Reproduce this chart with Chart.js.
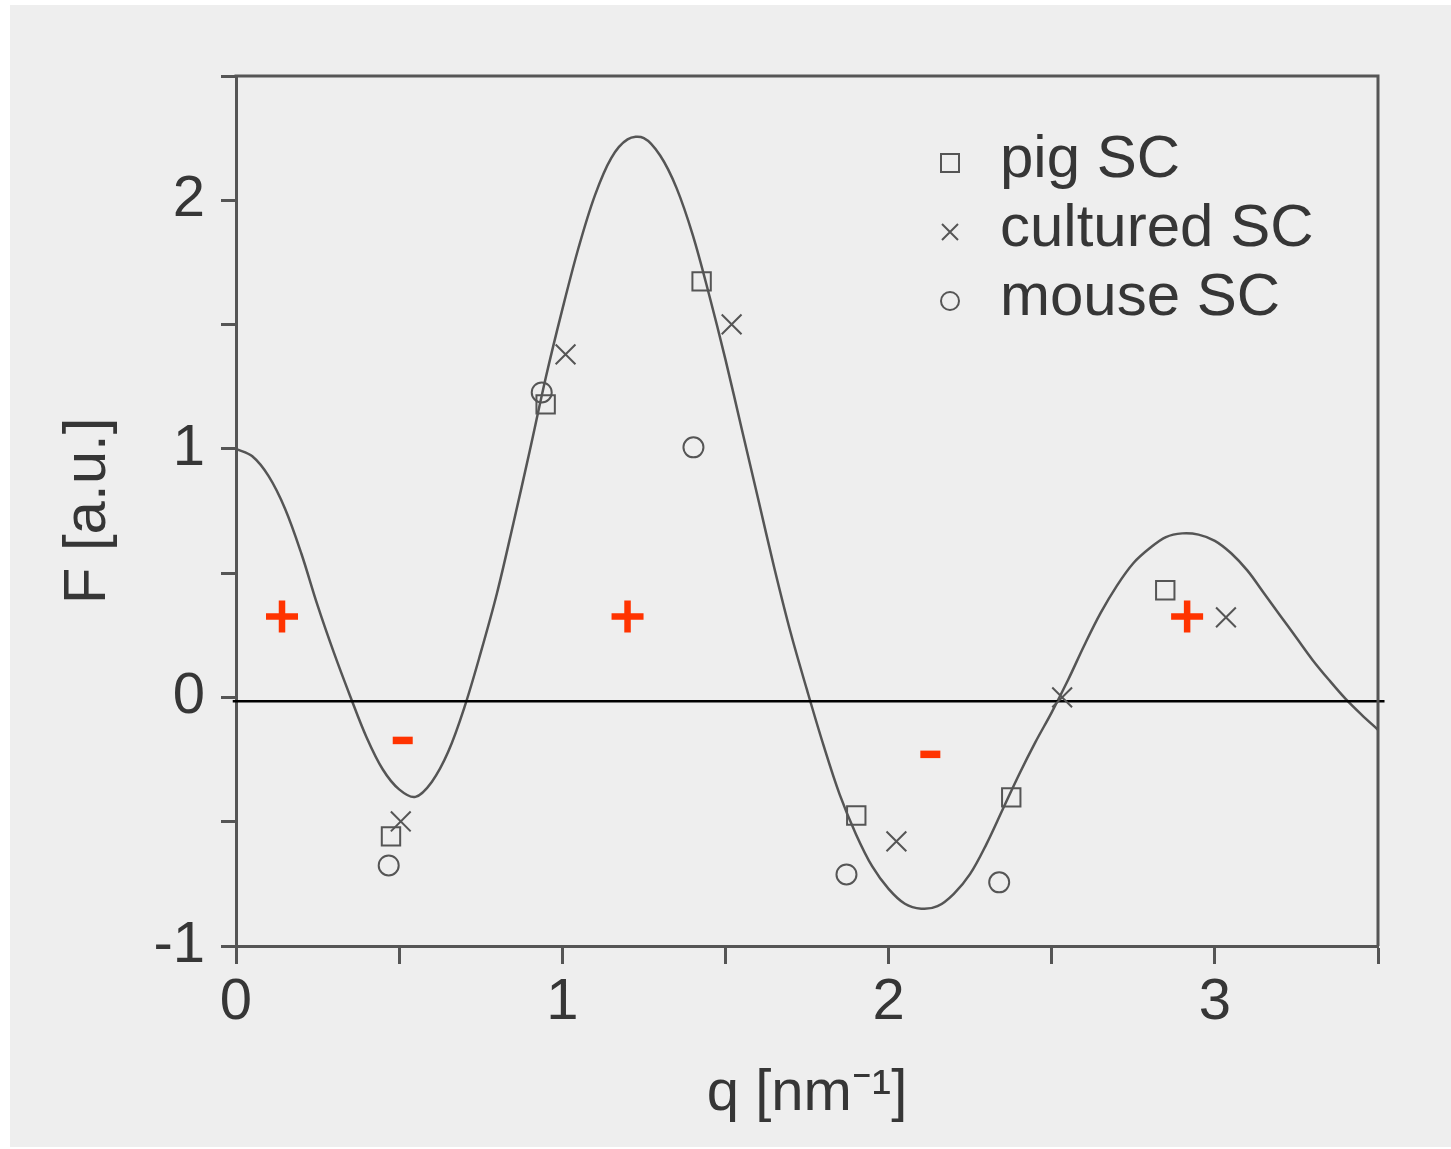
<!DOCTYPE html>
<html>
<head>
<meta charset="utf-8">
<script src="https://cdn.jsdelivr.net/npm/chart.js@4.4.1/dist/chart.umd.min.js"></script>
<style>
  html, body { margin: 0; padding: 0; background: #fff; }
  #wrap { position: relative; width: 1451px; height: 1149px; }
</style>
</head>
<body>
<div id="wrap"><canvas id="chart" width="1451" height="1149"></canvas></div>
<script>
// ---- data ----

// fitted form factor curve F(q)
const curveQ = [0, 0.05, 0.10, 0.15, 0.20, 0.25, 0.30, 0.35, 0.40, 0.45, 0.50, 0.55, 0.60, 0.65, 0.70,
  0.75, 0.80, 0.85, 0.90, 0.95, 1.00, 1.05, 1.10, 1.15, 1.20, 1.25, 1.30, 1.35, 1.40, 1.45,
  1.50, 1.55, 1.60, 1.65, 1.70, 1.75, 1.80, 1.85, 1.90, 1.95, 2.00, 2.05, 2.10, 2.15, 2.20,
  2.25, 2.30, 2.35, 2.40, 2.45, 2.50, 2.55, 2.60, 2.65, 2.70, 2.75, 2.80, 2.85, 2.90, 2.95,
  3.00, 3.05, 3.10, 3.15, 3.20, 3.25, 3.30, 3.35, 3.40, 3.45, 3.50];
const curveF = [1.00, 0.97, 0.89, 0.76, 0.58, 0.37, 0.18, 0.005, -0.16, -0.29, -0.37, -0.40, -0.34, -0.22, -0.04,
  0.18, 0.42, 0.70, 0.99, 1.29, 1.56, 1.81, 2.02, 2.17, 2.245, 2.25, 2.18, 2.05, 1.86, 1.62,
  1.36, 1.08, 0.80, 0.52, 0.26, 0.03, -0.19, -0.39, -0.55, -0.68, -0.77, -0.83, -0.85, -0.84, -0.79,
  -0.71, -0.59, -0.45, -0.31, -0.18, -0.06, 0.07, 0.21, 0.34, 0.45, 0.54, 0.60, 0.645, 0.66, 0.655,
  0.63, 0.58, 0.51, 0.42, 0.33, 0.24, 0.15, 0.07, -0.005, -0.07, -0.13];

// measured points
const pigQ = [0.475, 0.949, 1.427, 1.901, 2.376, 2.848];
const pigF = [-0.559, 1.179, 1.674, -0.475, -0.402, 0.431];
const culturedQ = [0.505, 1.010, 1.519, 2.024, 2.532, 3.034];
const culturedF = [-0.499, 1.380, 1.501, -0.579, 0.000, 0.322];
const mouseQ = [0.468, 0.937, 1.402, 1.871, 2.339];
const mouseF = [-0.676, 1.227, 1.006, -0.712, -0.744];

// sign annotations (the last one sits just past the right edge of the page)
const plusQ = [0.141, 1.200, 2.915];
const plusF = [0.326, 0.326, 0.326];
const minusQ = [0.511, 2.128];
const minusF = [-0.173, -0.229];
const edgeQ = [3.728];
const edgeF = [-0.02];

// zero reference line
const zeroQ = [-0.01, 3.52];
const zeroF = [-0.015, -0.015];

const xTicks = [0, 1, 2, 3];
const yTicks = [-1, 0, 1, 2];
const legendLabels = ['pig SC', 'cultured SC', 'mouse SC'];

// ---- styles ----
const FONT = '"Liberation Sans", Arial, Helvetica, sans-serif';
const INK = '#555';
const TEXT = '#363636';
const RED = '#ff3300';

function pts(xs, ys) {
  return xs.map((x, i) => ({ x, y: ys[i] }));
}

const bgPlugin = {
  id: 'paper',
  beforeDraw(chart) {
    const ctx = chart.ctx;
    ctx.save();
    ctx.fillStyle = '#eeeeee';
    ctx.fillRect(10, 5, chart.width - 10, chart.height - 7);
    ctx.restore();
  }
};

const framePlugin = {
  id: 'frame',
  afterDraw(chart) {
    const { ctx, chartArea: a } = chart;
    ctx.save();
    ctx.strokeStyle = INK;
    ctx.lineWidth = 3;
    ctx.beginPath();
    ctx.moveTo(a.left - 1.5, a.top);
    ctx.lineTo(a.right, a.top);
    ctx.lineTo(a.right, a.bottom);
    ctx.stroke();
    ctx.restore();
  }
};

function drawMarker(ctx, style, x, y, r) {
  ctx.beginPath();
  if (style === 'rect') {
    ctx.rect(x - r, y - r, 2 * r, 2 * r);
  } else if (style === 'crossRot') {
    ctx.moveTo(x - r, y - r); ctx.lineTo(x + r, y + r);
    ctx.moveTo(x + r, y - r); ctx.lineTo(x - r, y + r);
  } else {
    ctx.arc(x, y, r, 0, Math.PI * 2);
  }
  ctx.stroke();
}

const legendPlugin = {
  id: 'sampleLegend',
  afterDraw(chart) {
    const ctx = chart.ctx;
    const styles = ['rect', 'crossRot', 'circle'];
    const sizes = [9, 8, 9];
    const baselines = [177, 246, 315];
    ctx.save();
    ctx.font = '60px ' + FONT;
    ctx.fillStyle = TEXT;
    ctx.strokeStyle = INK;
    ctx.lineWidth = 2;
    ctx.textBaseline = 'alphabetic';
    legendLabels.forEach((label, i) => {
      ctx.fillText(label, 1000, baselines[i]);
      drawMarker(ctx, styles[i], 950, baselines[i] - 14, sizes[i]);
    });
    ctx.restore();
  }
};

const markerBase = {
  showLine: false,
  borderColor: INK,
  backgroundColor: 'rgba(0,0,0,0)',
  borderWidth: 2,
};

new Chart(document.getElementById('chart'), {
  type: 'scatter',
  data: {
    datasets: [
      { label: 'pig SC', data: pts(pigQ, pigF), pointStyle: 'rect', pointRadius: 13, ...markerBase },
      { label: 'cultured SC', data: pts(culturedQ, culturedF), pointStyle: 'crossRot', pointRadius: 14, ...markerBase },
      { label: 'mouse SC', data: pts(mouseQ, mouseF), pointStyle: 'circle', pointRadius: 10, ...markerBase },
      { label: 'plus', data: pts(plusQ, plusF), pointStyle: 'cross', pointRadius: 16, borderWidth: 6.5,
        borderColor: RED, backgroundColor: RED, showLine: false },
      { label: 'minus', data: pts(minusQ, minusF), pointStyle: 'line', pointRadius: 10, borderWidth: 7.5,
        borderColor: RED, backgroundColor: RED, showLine: false },
      { label: 'edge', data: pts(edgeQ, edgeF), pointStyle: 'rectRot', pointRadius: 6, borderWidth: 0,
        borderColor: RED, backgroundColor: RED, showLine: false, clip: false },
      { label: 'zero', data: pts(zeroQ, zeroF), showLine: true, pointRadius: 0, borderColor: '#000',
        borderWidth: 2.5, clip: false },
      { label: 'fit', data: pts(curveQ, curveF), showLine: true, pointRadius: 0, borderColor: INK,
        borderWidth: 2.5, tension: 0.35, clip: false },
    ]
  },
  options: {
    responsive: false,
    animation: false,
    events: [],
    layout: { padding: { top: 76, right: 73, left: 0, bottom: 0 } },
    plugins: { legend: { display: false }, tooltip: { enabled: false } },
    scales: {
      x: {
        type: 'linear', min: 0, max: 3.5,
        afterFit: s => { s.height = 203; },
        ticks: {
          stepSize: 0.5, autoSkip: false, maxRotation: 0, padding: 4, color: TEXT,
          font: { size: 58, family: FONT },
          callback: v => xTicks.includes(v) ? String(v) : ''
        },
        grid: { drawOnChartArea: false, tickLength: 18, tickWidth: 3, tickColor: INK },
        border: { display: true, width: 3, color: INK },
        title: {
          display: true, text: 'q [nm⁻¹]', color: TEXT,
          font: { size: 58, family: FONT }, padding: { top: 0, bottom: 20 }
        }
      },
      y: {
        type: 'linear', min: -1, max: 2.5,
        afterFit: s => { s.width = 236; },
        ticks: {
          stepSize: 0.5, autoSkip: false, padding: 16, color: TEXT,
          font: { size: 58, family: FONT },
          callback: v => yTicks.includes(v) ? String(v) : ''
        },
        grid: { drawOnChartArea: false, tickLength: 15, tickWidth: 3, tickColor: INK },
        border: { display: true, width: 3, color: INK },
        title: {
          display: true, text: 'F [a.u.]', color: TEXT,
          font: { size: 60, family: FONT }, padding: { top: 52, bottom: 0 }
        }
      }
    }
  },
  plugins: [bgPlugin, framePlugin, legendPlugin]
});
</script>
</body>
</html>
